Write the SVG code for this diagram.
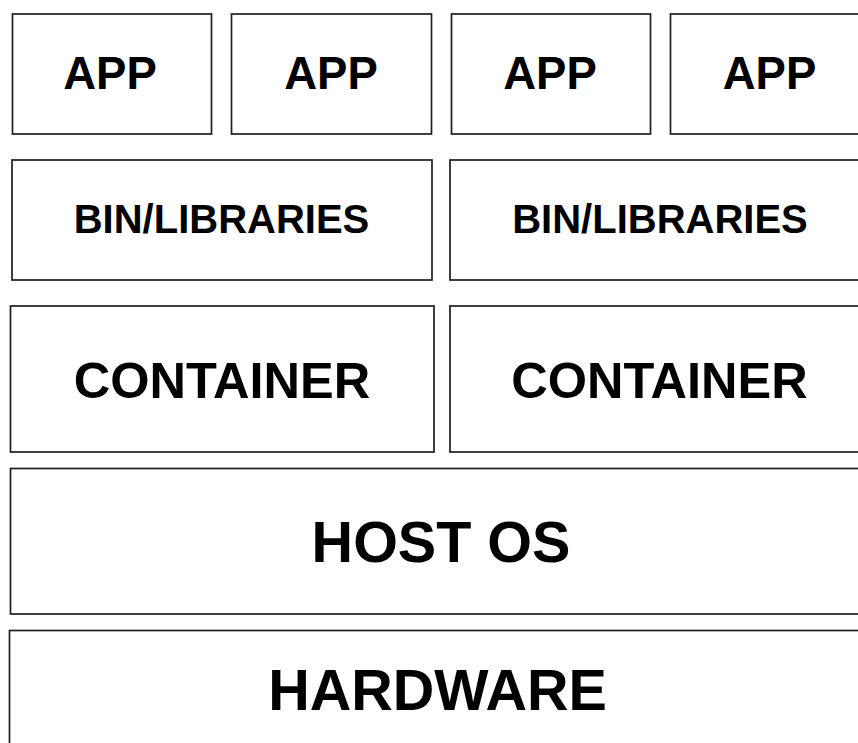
<svg xmlns="http://www.w3.org/2000/svg" width="858" height="743" viewBox="0 0 858 743">
  <style>
    .box { fill: #ffffff; stroke: #1e1e1e; stroke-width: 1.7; }
    .lbl { font-family: "Liberation Sans", Arial, sans-serif; font-weight: bold; fill: #000000; text-anchor: middle; }
  </style>
  <rect width="858" height="743" fill="#ffffff"/>

  <!-- application layer -->
  <g id="app1"><rect class="box" x="12.5" y="14" width="199" height="120"/><text class="lbl" x="110" y="89" font-size="45.5">APP</text></g>
  <g id="app2"><rect class="box" x="231.5" y="14" width="200" height="120"/><text class="lbl" x="331" y="89" font-size="45.5">APP</text></g>
  <g id="app3"><rect class="box" x="451.5" y="14" width="199" height="120"/><text class="lbl" x="550" y="89" font-size="45.5">APP</text></g>
  <g id="app4"><rect class="box" x="670.5" y="14" width="199" height="120"/><text class="lbl" x="769.5" y="89" font-size="45.5">APP</text></g>

  <!-- binaries / libraries -->
  <g id="bins1"><rect class="box" x="12" y="160" width="420" height="120"/><text class="lbl" x="221.5" y="232.5" font-size="40">BIN/LIBRARIES</text></g>
  <g id="bins2"><rect class="box" x="450" y="160" width="420" height="120"/><text class="lbl" x="660" y="232.5" font-size="40">BIN/LIBRARIES</text></g>

  <!-- containers -->
  <g id="container1"><rect class="box" x="10.5" y="306" width="423.5" height="146"/><text class="lbl" x="222" y="398" font-size="50.5">CONTAINER</text></g>
  <g id="container2"><rect class="box" x="450" y="306" width="420" height="146"/><text class="lbl" x="659.5" y="398" font-size="50.5">CONTAINER</text></g>

  <!-- host operating system -->
  <g id="hostos"><rect class="box" x="10.5" y="468.5" width="862" height="145.5"/><text class="lbl" x="441" y="562" font-size="57.5">HOST OS</text></g>

  <!-- hardware -->
  <g id="hardware"><rect class="box" x="9.5" y="630.5" width="858" height="130"/><text class="lbl" x="437.5" y="709.5" font-size="57.5">HARDWARE</text></g>

  <g id="connectors"/>
</svg>
